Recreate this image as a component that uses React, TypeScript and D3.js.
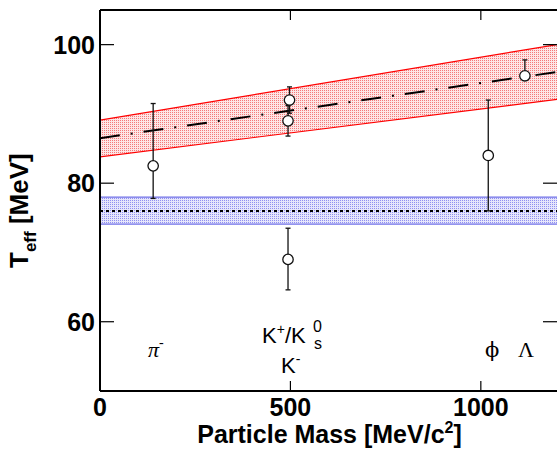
import React from "react";
import * as d3 from "d3";

const particleNames = ["pi-", "K+", "K0s", "K-", "phi", "Lambda"];
const masses = [139.6, 493.7, 497.6, 493.7, 1019.5, 1115.7];
const tEff = [82.5, 89.0, 92.0, 69.0, 84.0, 95.5];
const errHigh = [9.0, 2.2, 1.9, 4.5, 8.0, 2.3];
const errLow = [4.7, 2.2, 1.9, 4.4, 8.0, 0.6];

const fitMass = [0, 1200];
const fitLine = [86.5, 96.05];
const fitUpper = [89.1, 100.0];
const fitLower = [83.8, 92.1];

const flatMass = [0, 1200];
const flatLine = [76.0, 76.0];
const flatUpper = [78.0, 78.0];
const flatLower = [74.1, 74.1];

const xTicks = [0, 500, 1000];
const yTicks = [60, 80, 100];

const W = 557;
const H = 450;
const left = 100;
const right = 557;
const top = 10;
const bottom = 391;

export default function App() {
  const x = d3.scaleLinear().domain([0, 1200]).range([left, right]);
  const y = d3.scaleLinear().domain([50, 105]).range([bottom, top]);

  const fitRows = fitMass.map((m, i) => ({ m, c: fitLine[i], u: fitUpper[i], l: fitLower[i] }));
  const flatRows = flatMass.map((m, i) => ({ m, c: flatLine[i], u: flatUpper[i], l: flatLower[i] }));

  const area = d3
    .area<{ m: number; u: number; l: number }>()
    .x((d) => x(d.m))
    .y0((d) => y(d.l))
    .y1((d) => y(d.u));
  const lineC = d3.line<{ m: number; c: number }>().x((d) => x(d.m)).y((d) => y(d.c));
  const lineU = d3.line<{ m: number; u: number }>().x((d) => x(d.m)).y((d) => y(d.u));
  const lineL = d3.line<{ m: number; l: number }>().x((d) => x(d.m)).y((d) => y(d.l));

  const bold = { fontFamily: "'Liberation Sans', Arial, sans-serif", fontWeight: 700 as const };
  const sans = { fontFamily: "'Liberation Sans', Arial, sans-serif" };
  const serif = { fontFamily: "'DejaVu Serif', 'Liberation Serif', serif" };
  const tserif = { fontFamily: "'Liberation Serif', 'Times New Roman', serif" };

  return (
    <svg
      width={W}
      height={H}
      style={{ position: "absolute", left: 0, top: 0, background: "#fff" }}
    >
      <defs>
        <pattern id="redDots" width="2" height="2" patternUnits="userSpaceOnUse">
          <rect width="2" height="2" fill="#fde6e6" />
          <rect width="1" height="1" fill="#f47a7a" />
        </pattern>
        <pattern id="blueDots" width="2" height="2" patternUnits="userSpaceOnUse">
          <rect width="2" height="2" fill="#e6e6fb" />
          <rect width="1" height="1" fill="#9090f0" />
        </pattern>
        <clipPath id="plotClip">
          <rect x={left} y={top} width={right - left + 2} height={bottom - top} />
        </clipPath>
      </defs>

      <g clipPath="url(#plotClip)">
        {/* blue flat band */}
        <path d={area(flatRows) || ""} fill="url(#blueDots)" />
        <path d={lineU(flatRows) || ""} stroke="#7070e8" strokeWidth={1.2} fill="none" />
        <path d={lineL(flatRows) || ""} stroke="#7070e8" strokeWidth={1.2} fill="none" />
        <path
          d={lineC(flatRows) || ""}
          stroke="#000"
          strokeWidth={2}
          strokeDasharray="3 3"
          fill="none"
        />

        {/* red fit band */}
        <path d={area(fitRows) || ""} fill="url(#redDots)" />
        <path d={lineU(fitRows) || ""} stroke="#ff0000" strokeWidth={1.2} fill="none" />
        <path d={lineL(fitRows) || ""} stroke="#ff0000" strokeWidth={1.2} fill="none" />
        <path
          d={lineC(fitRows) || ""}
          stroke="#000"
          strokeWidth={2}
          strokeDasharray="20 11 2 11"
          fill="none"
        />

        {/* data points */}
        {masses.map((m, i) => {
          const cx = x(m);
          const yt = y(tEff[i] + errHigh[i]);
          const yb = y(tEff[i] - errLow[i]);
          return (
            <g key={particleNames[i]}>
              <line x1={cx} x2={cx} y1={yt} y2={yb} stroke="#111" strokeWidth={1.3} />
              <line x1={cx - 2.5} x2={cx + 2.5} y1={yt} y2={yt} stroke="#111" strokeWidth={1.3} />
              <line x1={cx - 2.5} x2={cx + 2.5} y1={yb} y2={yb} stroke="#111" strokeWidth={1.3} />
            </g>
          );
        })}
        {masses.map((m, i) => (
          <circle
            key={"c" + particleNames[i]}
            cx={x(m)}
            cy={y(tEff[i])}
            r={5.2}
            fill="#fff"
            stroke="#111"
            strokeWidth={1.3}
          />
        ))}
      </g>

      {/* frame */}
      <line x1={left} x2={left} y1={top} y2={bottom} stroke="#000" strokeWidth={2} />
      <line x1={left} x2={right} y1={bottom} y2={bottom} stroke="#000" strokeWidth={2} />
      <line x1={left} x2={right} y1={top} y2={top} stroke="#000" strokeWidth={2} />
      <line x1={right + 1} x2={right + 1} y1={top} y2={bottom} stroke="#000" strokeWidth={2} />

      {/* y ticks */}
      {yTicks.map((t) => (
        <g key={"y" + t}>
          <line x1={left} x2={left + 14} y1={y(t)} y2={y(t)} stroke="#000" strokeWidth={1.2} />
          <line x1={right - 14} x2={right} y1={y(t)} y2={y(t)} stroke="#000" strokeWidth={1.2} />
          <text x={left - 5} y={y(t)} dy="0.37em" textAnchor="end" fontSize={25} style={bold}>
            {t}
          </text>
        </g>
      ))}

      {/* x ticks */}
      {xTicks.map((t) => (
        <g key={"x" + t}>
          {t > 0 && (
            <>
              <line x1={x(t)} x2={x(t)} y1={bottom} y2={bottom - 10} stroke="#000" strokeWidth={1.2} />
              <line x1={x(t)} x2={x(t)} y1={top} y2={top + 10} stroke="#000" strokeWidth={1.2} />
            </>
          )}
          <text x={x(t)} y={416} textAnchor="middle" fontSize={25} style={bold}>
            {t}
          </text>
        </g>
      ))}

      {/* axis titles */}
      <text x={(left + right) / 2 + 1} y={443} textAnchor="middle" fontSize={25} style={bold}>
        Particle Mass [MeV/c
        <tspan fontSize={16} dy={-10}>
          2
        </tspan>
        <tspan dy={10}>]</tspan>
      </text>
      <text transform={`translate(28,268) rotate(-90)`} fontSize={26} style={bold}>
        T
        <tspan fontSize={17} dy={8}>
          eff
        </tspan>
        <tspan dy={-8}> [MeV]</tspan>
      </text>

      {/* particle labels */}
      <text x={148} y={357} fontSize={22} style={tserif} fontStyle="italic">
        π
        <tspan fontSize={14} dy={-10}>
          -
        </tspan>
      </text>
      <text x={262} y={343} fontSize={22} style={sans}>
        K
        <tspan fontSize={14} dy={-9}>
          +
        </tspan>
        <tspan dy={9}>/K</tspan>
      </text>
      <text x={313} y={332} fontSize={16} style={sans}>
        0
      </text>
      <text x={314} y={349} fontSize={16} style={sans}>
        s
      </text>
      <text x={281} y={373} fontSize={22} style={sans}>
        K
        <tspan fontSize={14} dy={-9}>
          -
        </tspan>
      </text>
      <text x={485} y={357} fontSize={21} style={serif}>
        ϕ
      </text>
      <text x={518} y={357} fontSize={22} style={tserif}>
        Λ
      </text>
    </svg>
  );
}
